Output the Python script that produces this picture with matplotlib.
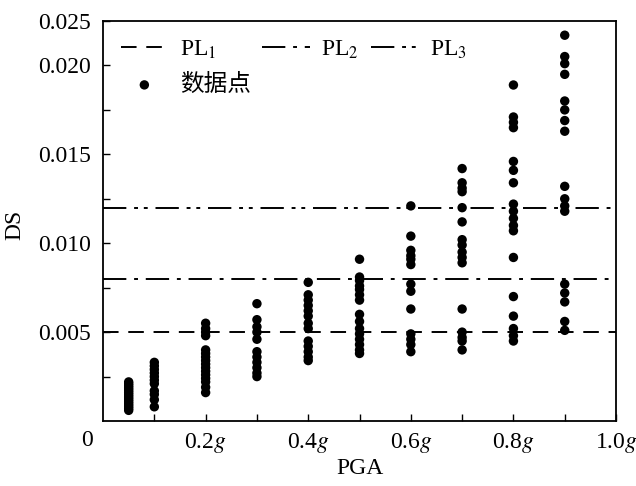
import matplotlib
matplotlib.use("Agg")
import matplotlib.pyplot as plt
import numpy as np

plt.rcParams["font.family"] = ["Liberation Serif", "Noto Sans CJK SC"]
plt.rcParams["mathtext.fontset"] = "stix"

# DS values per PGA level
pga_levels = [0.05, 0.1, 0.2, 0.3, 0.4, 0.5, 0.6, 0.7, 0.8, 0.9]
ds_values = [
    [0.0022, 0.0021, 0.0020, 0.0019, 0.0018, 0.0017, 0.0016, 0.0015,
     0.0014, 0.0013, 0.0012, 0.0011, 0.0010, 0.0009, 0.0008, 0.0007, 0.0006],
    [0.0033, 0.0031, 0.0029, 0.0027, 0.0025, 0.0023, 0.0021, 0.0017,
     0.0015, 0.0012, 0.0008],
    [0.0055, 0.0052, 0.0050, 0.0048, 0.0040, 0.0038, 0.0036, 0.0034,
     0.0032, 0.0030, 0.0028, 0.0026, 0.0024, 0.0022, 0.0019, 0.0016],
    [0.0066, 0.0057, 0.0053, 0.0050, 0.0046, 0.0039, 0.0036, 0.0033,
     0.0030, 0.0027, 0.0025],
    [0.0078, 0.0071, 0.0068, 0.0065, 0.0062, 0.0059, 0.0055, 0.0052,
     0.0045, 0.0042, 0.0039, 0.0036, 0.0034],
    [0.0091, 0.0081, 0.0079, 0.0076, 0.0074, 0.0071, 0.0068, 0.0060,
     0.0056, 0.0052, 0.0049, 0.0046, 0.0043, 0.0040, 0.0038],
    [0.0121, 0.0104, 0.0096, 0.0093, 0.0091, 0.0088, 0.0077, 0.0073,
     0.0063, 0.0049, 0.0046, 0.0043, 0.0039],
    [0.0142, 0.0134, 0.0131, 0.0129, 0.0120, 0.0112, 0.0102, 0.0099,
     0.0095, 0.0092, 0.0089, 0.0063, 0.0050, 0.0047, 0.0045, 0.0040],
    [0.0189, 0.0171, 0.0168, 0.0165, 0.0146, 0.0141, 0.0134, 0.0122,
     0.0118, 0.0114, 0.0110, 0.0107, 0.0092, 0.0070, 0.0059, 0.0052,
     0.0048, 0.0045],
    [0.0217, 0.0205, 0.0201, 0.0195, 0.0180, 0.0175, 0.0169, 0.0163,
     0.0132, 0.0125, 0.0121, 0.0118, 0.0077, 0.0072, 0.0067, 0.0056,
     0.0051],
]
pl_values = [0.005, 0.008, 0.012]
pl_labels = ["PL$_1$", "PL$_2$", "PL$_3$"]

x_ticks = [0.2, 0.4, 0.6, 0.8, 1.0]
x_ticklabels = ["0.2$g$", "0.4$g$", "0.6$g$", "0.8$g$", "1.0$g$"]
y_ticks = [0.005, 0.010, 0.015, 0.020, 0.0225]
y_ticklabels = ["0.005", "0.010", "0.015", "0.020", "0.025"]

fs = 17

fig = plt.figure(figsize=(6.36, 4.86), dpi=100)
ax = fig.add_axes([0.162, 0.1337, 0.8066, 0.8231])

pl_styles = [(0, (8, 5)), (0, (12, 4, 2, 4)), (0, (12, 4, 2, 3, 2, 4))]
handles = []
for val, lab, ls in zip(pl_values, pl_labels, pl_styles):
    h, = ax.plot([0, 1], [val, val], color="black", lw=1.4, linestyle=ls,
                 label=lab)
    handles.append(h)

xs = np.concatenate([[p] * len(v) for p, v in zip(pga_levels, ds_values)])
ys = np.concatenate(ds_values)
pts = ax.scatter(xs, ys, s=46, color="black", zorder=3, label="数据点",
                 edgecolors="none")

ax.set_xlim(0, 1.0)
ax.set_ylim(0, 0.0225)
ax.set_xticks(x_ticks)
ax.set_xticklabels(x_ticklabels)
ax.set_xticks(np.arange(0.1, 1.0, 0.2), minor=True)
ax.set_yticks(y_ticks)
ax.set_yticklabels(y_ticklabels)
ax.set_yticks([0.0025, 0.0075, 0.0125, 0.0175], minor=True)

ax.tick_params(which="both", direction="in", length=5, width=1,
               labelsize=fs)
ax.tick_params(axis="x", which="both", pad=7)
ax.tick_params(axis="y", which="both", pad=9)
for sp in ax.spines.values():
    sp.set_linewidth(1.3)

ax.set_xlabel("PGA", fontsize=fs)
ax.set_ylabel("DS", fontsize=fs)
ax.xaxis.set_label_coords(0.5, -0.093)
ax.yaxis.set_label_coords(-0.152, 0.49)

fig.text(87 / 636, 1 - 440 / 486, "0", ha="center", va="center",
         fontsize=fs)

ax.legend([handles[0], pts, handles[1], handles[2]],
          ["PL$_1$", "数据点", "PL$_2$", "PL$_3$"],
          ncol=3, frameon=False, loc="upper left",
          bbox_to_anchor=(0.0, 1.0), fontsize=fs, handlelength=2.0,
          columnspacing=0.5, handletextpad=0.5, labelspacing=0.55,
          borderaxespad=0.35)

fig.savefig("out.png", dpi=100)
plt.close(fig)
